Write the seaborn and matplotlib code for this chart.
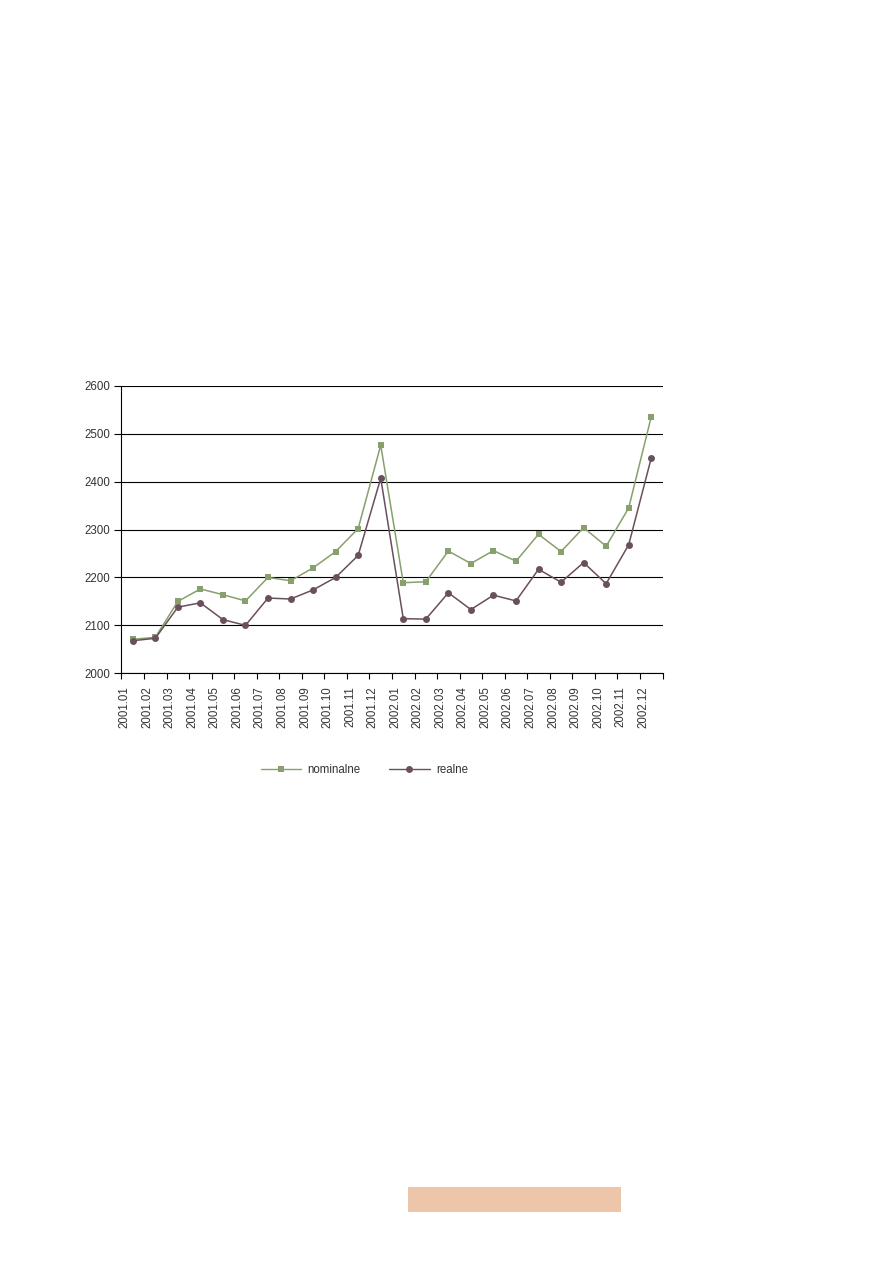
import numpy as np
import pandas as pd
import matplotlib
matplotlib.use("Agg")
import matplotlib.pyplot as plt
from matplotlib.patches import Rectangle
from matplotlib.lines import Line2D
import seaborn as sns

months = ["2001.01", "2001.02", "2001.03", "2001.04", "2001.05", "2001.06",
          "2001.07", "2001.08", "2001.09", "2001.10", "2001.11", "2001.12",
          "2002.01", "2002.02", "2002.03", "2002.04", "2002.05", "2002.06",
          "2002.07", "2002.08", "2002.09", "2002.10", "2002.11", "2002.12"]
nominalne = [2071, 2075, 2150, 2176, 2164, 2151, 2200, 2193, 2220, 2254, 2302, 2476,
             2189, 2191, 2255, 2229, 2256, 2234, 2290, 2254, 2304, 2265, 2345, 2535]
realne = [2068, 2073, 2138, 2147, 2112, 2100, 2157, 2155, 2174, 2200, 2246, 2407,
          2114, 2113, 2168, 2133, 2163, 2151, 2217, 2190, 2231, 2187, 2268, 2449]
series_names = ["nominalne", "realne"]
y_ticks = [2000, 2100, 2200, 2300, 2400, 2500, 2600]

GREEN = "#87A06D"
PURPLE = "#6A4F5C"

sns.set_style("white")
plt.rcParams['font.family'] = ['Liberation Sans', 'DejaVu Sans']

idx = np.arange(len(months))
df = pd.DataFrame({
    "x": np.concatenate([idx + 0.5, idx + 0.5]),
    "value": nominalne + realne,
    "series": [series_names[0]] * len(months) + [series_names[1]] * len(months),
})

fig = plt.figure(figsize=(8.93, 12.63), dpi=100)
ax = fig.add_axes([121.5 / 893, 1 - 673.3 / 1263, 541 / 893, 287.6 / 1263])

for name, color, marker in [(series_names[0], GREEN, "s"), (series_names[1], PURPLE, "o")]:
    sub = df[df["series"] == name]
    sns.lineplot(data=sub, x="x", y="value", ax=ax, color=color, marker=marker,
                 markersize=5, markeredgewidth=0, linewidth=1.1, legend=False)

ax.set_xlim(0, len(months))
ax.set_ylim(y_ticks[0], y_ticks[-1])
ax.set_yticks(y_ticks)
ax.set_yticklabels([str(v) for v in y_ticks], fontsize=8.3)
# tick marks at category boundaries (major), labels slightly right of them (minor)
ax.set_xticks(np.arange(len(months) + 1))
ax.set_xticklabels([""] * (len(months) + 1))
ax.set_xticks(idx + 0.14, minor=True)
ax.set_xticklabels(months, minor=True, rotation=90, fontsize=8.3, va="top")
ax.set_xlabel("")
ax.set_ylabel("")

ax.yaxis.grid(True, color="black", linewidth=0.8)
ax.xaxis.grid(False)
ax.set_axisbelow(True)
for s in ["top", "right"]:
    ax.spines[s].set_visible(False)
for s in ["left", "bottom"]:
    ax.spines[s].set_color("black")
    ax.spines[s].set_linewidth(0.8)
ax.tick_params(axis="x", which="major", direction="out", length=4.5, width=0.8, color="black")
ax.tick_params(axis="x", which="minor", length=0, pad=9.5, labelcolor="#333333", bottom=True)
ax.tick_params(axis="y", direction="out", length=5, width=0.8, color="black", pad=3, labelcolor="#333333")
ax.tick_params(left=True, bottom=True)

handles = [
    Line2D([0], [0], color=GREEN, marker="s", markersize=5, markeredgewidth=0, linewidth=1.0),
    Line2D([0], [0], color=PURPLE, marker="o", markersize=5, markeredgewidth=0, linewidth=1.0),
]
fig.legend(handles, series_names, loc="center", bbox_to_anchor=(0.408, 1 - 770 / 1263),
           ncol=2, frameon=False, fontsize=8.3, handlelength=3.5, handletextpad=0.55,
           columnspacing=2.5, labelcolor="#333333")

fig.patches.append(Rectangle((408 / 893, 1 - 1211.5 / 1263), 213 / 893, 25 / 1263,
                             transform=fig.transFigure, facecolor="#EDC5A8",
                             edgecolor="none", figure=fig))

fig.savefig("out.png", dpi=100)
